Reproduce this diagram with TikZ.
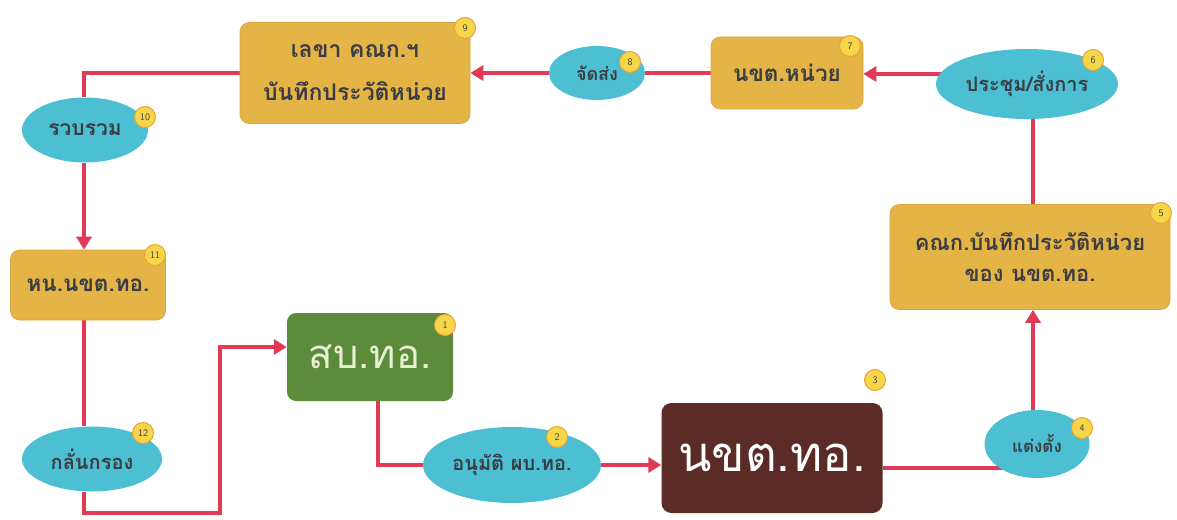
\documentclass[tikz,border=0pt]{standalone}
\usepackage{fontspec}
\newfontfamily\thai[Script=Thai]{Loma}
\usetikzlibrary{shapes.geometric,arrows.meta}
\pgfdeclarelayer{bg}
\pgfsetlayers{bg,main}
\definecolor{gold}{HTML}{E5B447}
\definecolor{goldedge}{HTML}{D9A43E}
\definecolor{cyanel}{HTML}{4DBFD3}
\definecolor{greenbox}{HTML}{5C8B3C}
\definecolor{greentext}{HTML}{E8F0D2}
\definecolor{brownbox}{HTML}{5B2B25}
\definecolor{linered}{HTML}{E03A57}
\definecolor{badgefill}{HTML}{F7D64A}
\definecolor{badgeline}{HTML}{E9A33A}
\definecolor{txt}{HTML}{3A3D44}
\begin{document}
\begin{tikzpicture}[x=1pt,y=-1pt,
  goldbox/.style={draw=goldedge, line width=0.6pt, fill=gold, rounded corners=9pt,
    font=\thai\bfseries\fontsize{22.5}{32}\selectfont, text=txt, align=center, inner sep=0pt},
  ellnode/.style={ellipse, fill=cyanel, inner sep=0pt,
    font=\thai\bfseries\fontsize{19}{22}\selectfont, text=txt},
  badge/.style={circle, fill=badgefill, draw=badgeline, line width=1pt, minimum size=21pt,
    inner sep=0pt, font=\sffamily\fontsize{10}{10}\selectfont, text=txt},
  conn/.style={draw=linered, line width=3.5pt},
  arr/.style={conn, -{Triangle[length=13pt,width=15pt]}}
]
\useasboundingbox (0,0) rectangle (1177,519);

% nodes
\node[goldbox, minimum width=230pt, minimum height=101pt,
  font=\thai\bfseries\fontsize{23}{43}\selectfont] (n9) at (355,73) {เลขา คณก.ฯ\\บันทึกประวัติหน่วย};
\node[ellnode, minimum width=96pt, minimum height=54pt, font=\thai\bfseries\fontsize{18}{20}\selectfont] (n8) at (597,73) {จัดส่ง};
\node[goldbox, minimum width=152pt, minimum height=72pt] (n7) at (787,73) {นขต.หน่วย};
\node[ellnode, minimum width=182pt, minimum height=70pt, font=\thai\bfseries\fontsize{20}{22}\selectfont] (n6) at (1027,84) {ประชุม/สั่งการ};
\node[goldbox, minimum width=280pt, minimum height=105pt,
  font=\thai\bfseries\fontsize{22}{31}\selectfont] (n5) at (1030,257) {คณก.บันทึกประวัติหน่วย\\ของ นขต.ทอ.};
\node[ellnode, minimum width=105pt, minimum height=68pt, font=\thai\bfseries\fontsize{17}{20}\selectfont] (n4) at (1037,444) {แต่งตั้ง};
\node[rounded corners=10pt, fill=brownbox, minimum width=221pt, minimum height=110pt,
  inner sep=0pt, text=white, font=\thai\fontsize{49}{49}\selectfont] (n3) at (772,458) {นขต.ทอ.};
\node[ellnode, minimum width=178pt, minimum height=76pt, font=\thai\bfseries\fontsize{20}{22}\selectfont] (n2) at (512,465) {อนุมัติ ผบ.ทอ.};
\node[rounded corners=9pt, fill=greenbox, minimum width=166pt, minimum height=88pt,
  inner sep=0pt, text=greentext, font=\thai\fontsize{40}{40}\selectfont] (n1) at (370,357) {สบ.ทอ.};
\node[ellnode, minimum width=140pt, minimum height=65pt, font=\thai\bfseries\fontsize{20}{22}\selectfont] (n12) at (92,459) {กลั่นกรอง};
\node[goldbox, minimum width=155pt, minimum height=70pt] (n11) at (88,285) {หน.นขต.ทอ.};
\node[ellnode, minimum width=126pt, minimum height=65pt, font=\thai\bfseries\fontsize{21}{22}\selectfont] (n10) at (85,130) {รวบรวม};

% badges
\node[badge] (b1) at (445,325) {1};
\node[badge] (b2) at (557,437) {2};
\node[badge] (b3) at (875,380) {3};
\node[badge] (b4) at (1082,428) {4};
\node[badge] (b5) at (1161,213) {5};
\node[badge] (b6) at (1093,60) {6};
\node[badge] (b7) at (850,46) {7};
\node[badge] (b8) at (630,62) {8};
\node[badge] (b9) at (465,28) {9};
\node[badge] (b10) at (145,117) {10};
\node[badge] (b11) at (155,255) {11};
\node[badge] (b12) at (143,433) {12};

% helper coordinates
\coordinate (lc) at (84,0);
\coordinate (rc) at (1033,0);
\coordinate (c1) at (378,0);
\coordinate (row) at (0,74);
\coordinate (bl) at (84,513);
\coordinate (br) at (220,513);

% connectors
\begin{pgfonlayer}{bg}
\draw[conn] (n1.south -| c1) |- (n2.west);
\draw[arr] (n2.east) -- (n2.east -| n3.west);
\draw[conn] ([yshift=-10pt]n3.east) -- ([yshift=-10pt]n3.east -| n4.center);
\draw[arr] (n4.north -| rc) -- (n5.south -| rc);
\draw[conn] (n5.north -| rc) -- (n6.south -| rc);
\draw[arr] (row -| n6.center) -- (row -| n7.east);
\draw[conn] (n7.west) -- (n8.east);
\draw[arr] (n8.west) -- (n9.east);
\draw[conn] (n9.west) -| (n10.north -| lc);
\draw[arr] (n10.south -| lc) -- (n11.north -| lc);
\draw[conn] (n11.south -| lc) -- (n12.north -| lc);
\draw[arr] (n12.south -| lc) -- (bl) -- (br) |- ([yshift=10pt]n1.west);
\end{pgfonlayer}
\end{tikzpicture}
\end{document}
